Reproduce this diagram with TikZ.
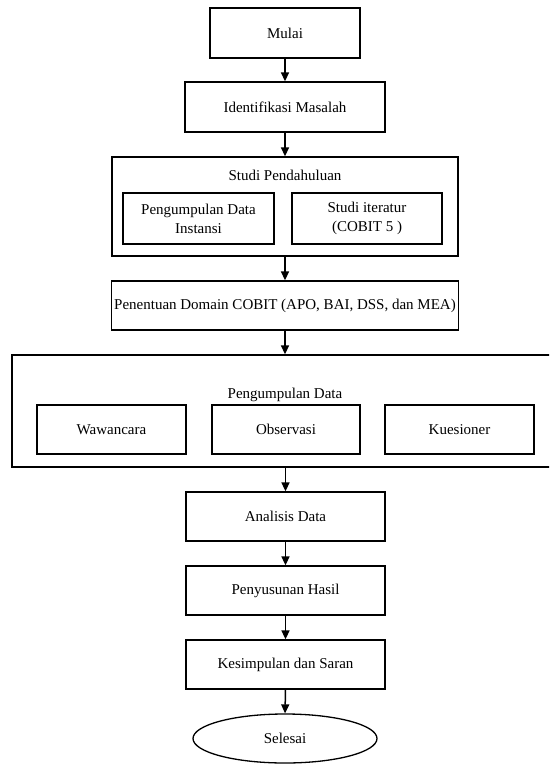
\documentclass[tikz,border=0pt]{standalone}
\usepackage{fontspec}
\setmainfont{Liberation Serif}
\usetikzlibrary{arrows.meta,shapes.geometric}
\begin{document}
\begin{tikzpicture}[x=1pt,y=-1pt,
  txt/.style={font=\fontsize{15}{19}\selectfont,align=center,inner sep=0pt},
  box/.style={txt,draw,line width=1.3pt,minimum width=#1,minimum height=50pt},
  box/.default=150pt,
  arr/.style={-{Triangle[length=9pt,width=8pt]},line width=1.5pt}]
\clip (0,0) rectangle (549,765);
\node[box=150pt] (mulai) at (285,33) {Mulai};
\node[box=200pt] (ident) at (285,107) {Identifikasi Masalah};
\node[box=346pt,minimum height=99pt] (studi) at (285,206.5) {};
\node[txt] (studit) at (285,175) {Studi Pendahuluan};
\node[box=151pt,minimum height=51pt] (instansi) at (198.5,218.5) {Pengumpulan Data\\Instansi};
\node[box=150pt,minimum height=51pt] (literatur) at (367,218.5) {Studi iteratur\\(COBIT 5 )};
\node[box=347pt,minimum height=49pt] (domain) at (285,305.5) {Penentuan Domain COBIT (APO, BAI, DSS, dan MEA)};
\node[box=568pt,minimum height=112pt] (peng) at (296,411) {};
\node[txt] (pengt) at (285,395) {Pengumpulan Data};
\node[box=149pt,minimum height=49pt] (waw) at (111.5,429.5) {Wawancara};
\node[box=148pt,minimum height=49pt] (obs) at (286,429.5) {Observasi};
\node[box=149pt,minimum height=49pt] (kue) at (459.5,429.5) {Kuesioner};
\node[box=199pt,minimum height=49pt] (anal) at (285.5,516.5) {Analisis Data};
\node[box=199pt,minimum height=49pt] (peny) at (285.5,590.5) {Penyusunan Hasil};
\node[box=199pt,minimum height=49pt] (kes) at (285.5,664.5) {Kesimpulan dan Saran};
\node[txt,draw,ellipse,line width=1.3pt,minimum width=184pt,minimum height=49pt] (sel) at (285,738.5) {Selesai};
\draw[arr] (mulai.south) -- (ident.north);
\draw[arr] (ident.south) -- (studi.north);
\draw[arr] (studi.south) -- (domain.north);
\draw[arr] (domain.south) -- (domain.south |- peng.north);
\draw[arr] (peng.south -| anal.north) -- (anal.north);
\draw[arr] (anal.south) -- (peny.north);
\draw[arr] (peny.south) -- (kes.north);
\draw[arr] (kes.south) -- (sel.north);
\end{tikzpicture}
\end{document}
